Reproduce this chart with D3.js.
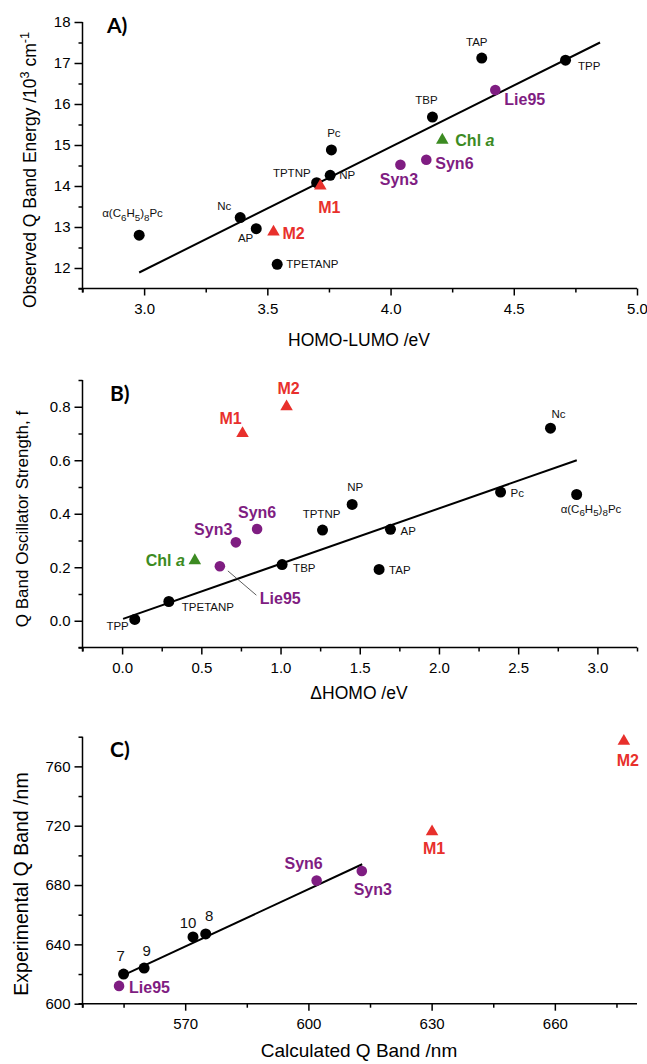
<!DOCTYPE html>
<html>
<head>
<meta charset="utf-8">
<script src="https://cdn.jsdelivr.net/npm/d3@7/dist/d3.min.js"></script>
<style>
  body { margin: 0; background: #fff; }
  svg { display: block; font-family: 'Liberation Sans', Arial, sans-serif; }
</style>
</head>
<body>
<svg id="chart" width="647" height="1064"></svg>
<script>
// reference compounds (black dots), same order in A and B
var refNames = ['α(C6H5)8Pc', 'Nc', 'AP', 'TPETANP', 'TPTNP', 'NP', 'Pc', 'TBP', 'TAP', 'TPP']

// A) HOMO-LUMO gap (eV) vs observed Q band energy (10^3 cm-1)
var gapA = [2.98, 3.39, 3.455, 3.54, 3.70, 3.755, 3.76, 4.17, 4.37, 4.71]
var energyA = [12.80, 13.23, 12.96, 12.09, 14.08, 14.26, 14.88, 15.68, 17.12, 17.07]
var newNamesA = ['Lie95', 'Syn3', 'Syn6', 'Chl a', 'M1', 'M2']
var newGapA = [4.425, 4.04, 4.145, 4.21, 3.715, 3.525]
var newEnergyA = [16.34, 14.52, 14.64, 15.12, 14.0, 12.88]
var fitXA = [2.98, 4.85]
var fitYA = [11.89, 17.50]

// B) delta HOMO (eV) vs oscillator strength f
var dHomoB = [2.869, 2.704, 1.694, 0.295, 1.265, 1.452, 2.389, 1.01, 1.622, 0.08]
var strengthB = [0.472, 0.72, 0.342, 0.072, 0.339, 0.435, 0.481, 0.21, 0.192, 0.005]
var newNamesB = ['Lie95', 'Syn3', 'Syn6', 'Chl a', 'M1', 'M2']
var newDHomoB = [0.617, 0.718, 0.852, 0.459, 0.76, 1.038]
var newStrengthB = [0.204, 0.293, 0.343, 0.225, 0.70, 0.80]
var fitXB = [0.006, 2.87]
var fitYB = [0.007, 0.60]

// C) calculated vs experimental Q band (nm)
var refNamesC = ['7', '9', '10', '8']
var calcC = [555.0, 560.0, 571.9, 575.0]
var expC = [620, 624, 645, 647]
var newNamesC = ['Lie95', 'Syn6', 'Syn3', 'M1', 'M2']
var newCalcC = [553.9, 602.0, 613.0, 630.1, 676.8]
var newExpC = [612, 683, 689.5, 716, 777]
var fitXC = [555, 613.1]
var fitYC = [619.3, 694]

// tick values
var xMajorA = [3.0, 3.5, 4.0, 4.5, 5.0]
var xMinorA = [2.75, 3.25, 3.75, 4.25, 4.75]
var yMajorA = [12, 13, 14, 15, 16, 17, 18]
var yMinorA = [11.5, 12.5, 13.5, 14.5, 15.5, 16.5, 17.5]
var xMajorB = [0.0, 0.5, 1.0, 1.5, 2.0, 2.5, 3.0]
var xMinorB = [-0.25, 0.25, 0.75, 1.25, 1.75, 2.25, 2.75, 3.25]
var yMajorB = [0.0, 0.2, 0.4, 0.6, 0.8]
var yMinorB = [-0.1, 0.1, 0.3, 0.5, 0.7, 0.9]
var xMajorC = [570, 600, 630, 660]
var xMinorC = [545, 555, 585, 615, 645, 675]
var yMajorC = [600, 640, 680, 720, 760]
var yMinorC = [620, 660, 700, 740, 780]

;(function (d3) {
  var red = '#e8302c'
  var purple = '#7f1d82'
  var green = '#3c8b22'
  var colorOf = {Lie95: purple, Syn3: purple, Syn6: purple, 'Chl a': green, M1: red, M2: red}
  var triangles = {'Chl a': true, M1: true, M2: true}

  var svg = d3.select('#chart')

  // label placement: offset of the label centre from its point
  var labelsA = {
    'α(C6H5)8Pc': [-37, -22, 'start'], Nc: [-9, -12, 'end'], AP: [-3, 9.5, 'end'],
    TPETANP: [9, 0, 'start'], TPTNP: [-6, -10, 'end'], NP: [9, 0, 'start'],
    Pc: [2.5, -17, 'middle'], TBP: [-6, -17, 'middle'], TAP: [-5, -16, 'middle'],
    TPP: [12.5, 6, 'start'],
    Lie95: [9, 9, 'start'], Syn3: [-1.5, 14.5, 'middle'], Syn6: [9, 4, 'start'],
    'Chl a': [13, 0.5, 'start'], M1: [9, 21, 'middle'], M2: [9, 1.5, 'start']
  }
  var labelsB = {
    'α(C6H5)8Pc': [-16, 14, 'start'], Nc: [8, -14, 'middle'], AP: [10, 2, 'start'],
    TPETANP: [13, 5, 'start'], TPTNP: [-1, -16, 'middle'], NP: [3, -17.5, 'middle'],
    Pc: [10, 1, 'start'], TBP: [11, 3, 'start'], TAP: [10, 1, 'start'],
    TPP: [-6, 7, 'end'],
    Lie95: [40, 32, 'start'], Syn3: [-3.5, -13, 'end'], Syn6: [0, -17, 'middle'],
    'Chl a': [-10, -0.5, 'end'], M1: [-12, -15, 'middle'], M2: [2, -18, 'middle']
  }
  var labelsC = {
    '7': [-3, -18, 'middle'], '9': [2.5, -17, 'middle'], '10': [-5, -14, 'middle'],
    '8': [3.5, -18, 'middle'],
    Lie95: [10, 1, 'start'], Syn6: [-13, -17, 'middle'], Syn3: [11, 18, 'middle'],
    M1: [2, 17, 'middle'], M2: [4, 19, 'middle']
  }

  var panels = [
    {
      letter: 'A)', letterX: 107, letterY: 33,
      xDomain: [2.75, 5.0], yDomain: [11.5, 18], top: 22, bottom: 288.5,
      xMajor: xMajorA, xMinor: xMinorA, yMajor: yMajorA, yMinor: yMinorA,
      xFormat: d3.format('.1f'), yFormat: d3.format('d'),
      ref: d3.zip(refNames, gapA, energyA),
      fresh: d3.zip(newNamesA, newGapA, newEnergyA),
      fit: d3.zip(fitXA, fitYA),
      labels: labelsA, refFont: 11.5,
      xTitle: 'HOMO-LUMO /eV', xTitleY: 346, xTitleSize: 17.5,
      yTitleSize: 17.5, yTitleX: 36, yTitleMid: 170,
      yTitle: [['Observed Q Band Energy /10', 0], ['3', -7], [' cm', 7], ['-1', -7]]
    },
    {
      letter: 'B)', letterX: 110, letterY: 400.5,
      xDomain: [-0.25, 3.25], yDomain: [-0.1, 0.9], top: 380, bottom: 647.5,
      xMajor: xMajorB, xMinor: xMinorB, yMajor: yMajorB, yMinor: yMinorB,
      xFormat: d3.format('.1f'), yFormat: d3.format('.1f'),
      ref: d3.zip(refNames, dHomoB, strengthB),
      fresh: d3.zip(newNamesB, newDHomoB, newStrengthB),
      fit: d3.zip(fitXB, fitYB),
      labels: labelsB, refFont: 11.5,
      leader: {name: 'Lie95', from: [8, 4.7], to: [36.5, 29]},
      xTitle: '\u0394HOMO /eV', xTitleY: 699, xTitleSize: 17.5,
      yTitleSize: 17, yTitleX: 28, yTitleMid: 519,
      yTitle: [['Q Band Oscillator Strength, f', 0]]
    },
    {
      letter: 'C)', letterX: 110, letterY: 757,
      xDomain: [545, 680], yDomain: [600, 780], top: 736.7, bottom: 1003.7,
      xMajor: xMajorC, xMinor: xMinorC, yMajor: yMajorC, yMinor: yMinorC,
      xFormat: d3.format('d'), yFormat: d3.format('d'),
      ref: d3.zip(refNamesC, calcC, expC),
      fresh: d3.zip(newNamesC, newCalcC, newExpC),
      fit: d3.zip(fitXC, fitYC),
      labels: labelsC, refFont: 15,
      xTitle: 'Calculated Q Band /nm', xTitleY: 1057, xTitleSize: 19,
      yTitleSize: 19.5, yTitleX: 28, yTitleMid: 884,
      yTitle: [['Experimental Q Band /nm', 0]]
    }
  ]

  function putLabel (g, name, px, py, pos, size, color, bold) {
    var t = g.append('text')
      .attr('x', px + pos[0])
      .attr('y', py + pos[1] + size * 0.35)
      .attr('text-anchor', pos[2])
      .attr('font-size', size)
      .attr('fill', color)
      .attr('font-weight', bold ? 'bold' : 'normal')
    if (name.charAt(0) === 'α') {
      // digits are subscripts in the formula
      name.split(/(\d)/).forEach(function (part, i) {
        if (!part) return
        var sub = /\d/.test(part)
        t.append('tspan')
          .attr('dy', sub ? 3.5 : (i > 1 ? -3.5 : 0))
          .attr('font-size', sub ? size * 0.85 : size)
          .text(part)
      })
    } else if (name === 'Chl a') {
      t.append('tspan').text('Chl ')
      t.append('tspan').attr('font-style', 'italic').text('a')
    } else {
      t.text(name)
    }
  }

  panels.forEach(function (p) {
    var x = d3.scaleLinear().domain(p.xDomain).range([82.5, 637])
    var y = d3.scaleLinear().domain(p.yDomain).range([p.bottom, p.top])
    var g = svg.append('g')

    // minor ticks
    g.append('g')
      .attr('transform', 'translate(0,' + p.bottom + ')')
      .call(d3.axisBottom(x).tickValues(p.xMinor).tickSize(4).tickFormat(''))
      .call(function (a) { a.select('.domain').remove() })
    g.append('g')
      .attr('transform', 'translate(82.5,0)')
      .call(d3.axisLeft(y).tickValues(p.yMinor).tickSize(4).tickFormat(''))
      .call(function (a) { a.select('.domain').remove() })

    // major ticks + axis lines
    var xa = g.append('g')
      .attr('transform', 'translate(0,' + p.bottom + ')')
      .call(d3.axisBottom(x).tickValues(p.xMajor).tickSize(7).tickSizeOuter(0)
        .tickPadding(8).tickFormat(p.xFormat))
    var ya = g.append('g')
      .attr('transform', 'translate(82.5,0)')
      .call(d3.axisLeft(y).tickValues(p.yMajor).tickSize(8).tickSizeOuter(0)
        .tickPadding(4).tickFormat(p.yFormat))
    xa.select('.domain').attr('d', 'M' + (x.range()[0] - 4) + ',0H' + x.range()[1])
    ya.select('.domain').attr('d', 'M0,' + p.top + 'V' + (p.bottom + 4))
    g.selectAll('.domain, .tick line').attr('stroke', '#000').attr('stroke-width', 1.5)
    g.selectAll('.tick text').attr('font-size', 15).attr('fill', '#000')
      .attr('font-family', "'Liberation Sans', Arial, sans-serif")

    // fit line
    g.append('path')
      .datum(p.fit)
      .attr('fill', 'none')
      .attr('stroke', '#000')
      .attr('stroke-width', 2)
      .attr('d', d3.line().x(function (d) { return x(d[0]) }).y(function (d) { return y(d[1]) }))

    if (p.leader) {
      var lp = p.fresh.filter(function (d) { return d[0] === p.leader.name })[0]
      g.append('line')
        .attr('x1', x(lp[1]) + p.leader.from[0]).attr('y1', y(lp[2]) + p.leader.from[1])
        .attr('x2', x(lp[1]) + p.leader.to[0]).attr('y2', y(lp[2]) + p.leader.to[1])
        .attr('stroke', '#333').attr('stroke-width', 0.8)
    }

    // reference compounds
    g.selectAll('circle.ref')
      .data(p.ref)
      .enter()
      .append('circle')
      .attr('class', 'ref')
      .attr('cx', function (d) { return x(d[1]) })
      .attr('cy', function (d) { return y(d[2]) })
      .attr('r', 5.5)
      .attr('fill', '#000')

    // new compounds
    g.selectAll('path.fresh')
      .data(p.fresh)
      .enter()
      .append('path')
      .attr('class', 'fresh')
      .attr('transform', function (d) { return 'translate(' + x(d[1]) + ',' + y(d[2]) + ')' })
      .attr('d', function (d) {
        return triangles[d[0]]
          ? d3.symbol(d3.symbolTriangle, 68)()
          : d3.symbol(d3.symbolCircle, Math.PI * 5.3 * 5.3)()
      })
      .attr('fill', function (d) { return colorOf[d[0]] })

    p.ref.forEach(function (d) {
      putLabel(g, d[0], x(d[1]), y(d[2]), p.labels[d[0]], p.refFont, '#111', false)
    })
    p.fresh.forEach(function (d) {
      putLabel(g, d[0], x(d[1]), y(d[2]), p.labels[d[0]], 16, colorOf[d[0]], true)
    })

    // panel letter
    g.append('text')
      .attr('x', p.letterX)
      .attr('y', p.letterY)
      .attr('font-family', 'Lato, sans-serif')
      .attr('font-weight', 'bold')
      .attr('font-size', 21)
      .text(p.letter)

    // axis titles
    g.append('text')
      .attr('x', 359)
      .attr('y', p.xTitleY)
      .attr('text-anchor', 'middle')
      .attr('font-size', p.xTitleSize)
      .text(p.xTitle)

    var yt = g.append('text')
      .attr('transform', 'translate(' + p.yTitleX + ',' + p.yTitleMid + ') rotate(-90)')
      .attr('text-anchor', 'middle')
      .attr('font-size', p.yTitleSize)
    p.yTitle.forEach(function (part) {
      yt.append('tspan')
        .attr('dy', part[1])
        .attr('font-size', part[1] < 0 ? p.yTitleSize * 0.72 : p.yTitleSize)
        .text(part[0])
    })
  })
})(window.d3)
</script>
</body>
</html>
